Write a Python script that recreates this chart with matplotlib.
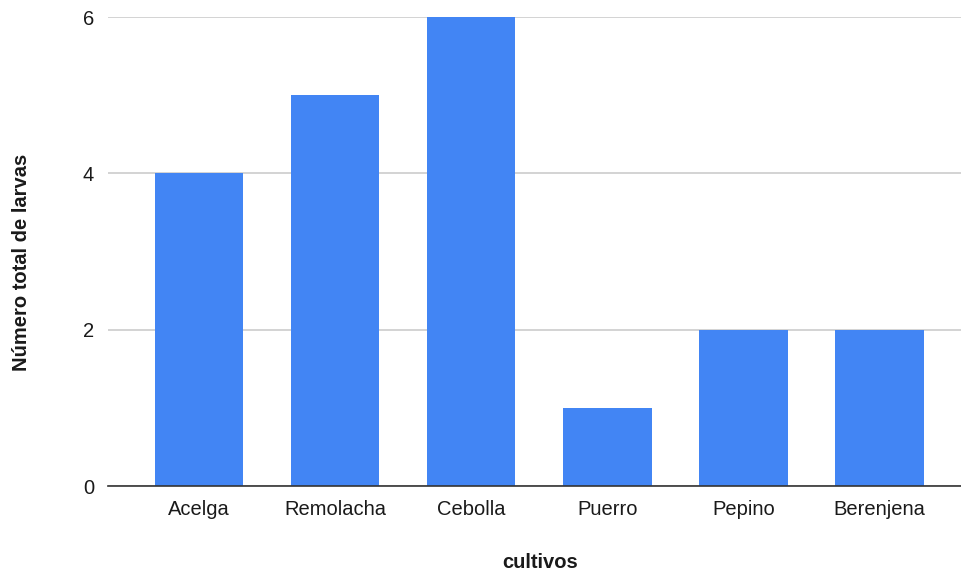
import matplotlib.pyplot as plt
import numpy as np

plt.rcParams['font.family'] = ['Liberation Sans', 'DejaVu Sans']

cultivos = ['Acelga', 'Remolacha', 'Cebolla', 'Puerro', 'Pepino', 'Berenjena']
larvas = [4, 5, 6, 1, 2, 2]
yticks = [0, 2, 4, 6]

fig = plt.figure(figsize=(9.61, 5.73), dpi=100)
ax = fig.add_axes([0.1124, 0.1518, 0.8876, 0.8185])

x = np.arange(len(cultivos))
ax.bar(x, larvas, width=0.65, color='#4285F4', zorder=3)

ax.set_xlim(-0.67, 5.6)
ax.set_ylim(0, 6)
ax.set_xticks(x)
ax.set_xticklabels(cultivos, fontsize=14.5, color='#1a1a1a')
ax.set_yticks(yticks)
ax.set_yticklabels([str(v) for v in yticks], fontsize=14.5, color='#1a1a1a')
ax.tick_params(axis='x', length=0, pad=10)
ax.tick_params(axis='y', length=0, pad=10)
ax.grid(axis='y', color='#cccccc', linewidth=1.2, zorder=0)

for s in ['top', 'right', 'left']:
    ax.spines[s].set_visible(False)
ax.spines['bottom'].set_color('#333333')
ax.spines['bottom'].set_linewidth(1.2)
ax.spines['bottom'].set_zorder(4)

fig.text(0.5623, 1 - 562 / 573, 'cultivos', ha='center', va='center',
         fontsize=14.5, fontweight='bold', color='#1a1a1a')
fig.text(22 / 961, 1 - 262 / 573, 'Número total de larvas', ha='center', va='center',
         rotation=90, fontsize=14.5, fontweight='bold', color='#1a1a1a')

plt.savefig('out.png', dpi=100)
